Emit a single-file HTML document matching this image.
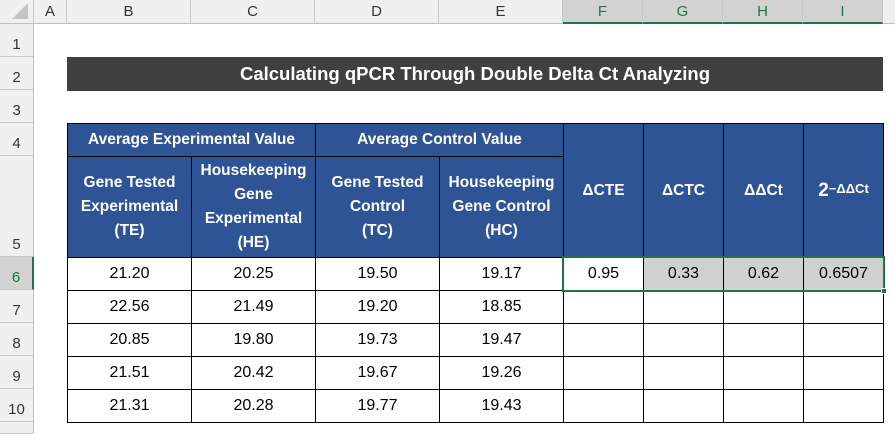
<!DOCTYPE html>
<html><head><meta charset="utf-8"><style>
*{margin:0;padding:0;box-sizing:border-box}
body{width:895px;height:432px;overflow:hidden;background:#fff;font-family:"Liberation Sans",sans-serif;position:relative}
.a{position:absolute;display:flex;align-items:center;justify-content:center;text-align:center}
.ch{top:0;height:24px;background:#f0f0f0;border-right:1px solid #c8c8c8;border-bottom:1px solid #c0c0c0;font-size:15px;color:#333}
.chs{background:#d2d2d2;color:#217346;border-bottom:2px solid #217346}
.rh{left:0;width:34px;background:#f0f0f0;border-bottom:1px solid #c8c8c8;border-right:1px solid #c0c0c0;font-size:15px;color:#333;align-items:flex-end;padding-bottom:3px}
.h{background:#2f5496;color:#fff;font-weight:bold;font-size:15.5px;border:1px solid #000;line-height:24px;white-space:nowrap}
.d{border:1px solid #000;font-size:16px;color:#000;background:#fff}
</style></head><body>
<div class="a ch" style="left:0;width:34px"><svg width="20" height="20" style="position:absolute;right:3px;bottom:2px"><polygon points="18,2 18,18 2,18" fill="#c4c4c4"/></svg></div>
<div class="a ch" style="left:34px;width:33px">A</div>
<div class="a ch" style="left:67px;width:124px">B</div>
<div class="a ch" style="left:191px;width:124px">C</div>
<div class="a ch" style="left:315px;width:124px">D</div>
<div class="a ch" style="left:439px;width:124px">E</div>
<div class="a ch chs" style="left:563px;width:80px">F</div>
<div class="a ch chs" style="left:643px;width:80px">G</div>
<div class="a ch chs" style="left:723px;width:80px">H</div>
<div class="a ch chs" style="left:803px;width:80px">I</div>
<div class="a ch" style="left:883px;width:12px;border-right:none"></div>
<div class="a rh" style="top:24px;height:33px">1</div>
<div class="a rh" style="top:57px;height:33px">2</div>
<div class="a rh" style="top:90px;height:33px">3</div>
<div class="a rh" style="top:123px;height:33px">4</div>
<div class="a rh" style="top:156px;height:101px">5</div>
<div class="a rh" style="top:257px;height:33px;background:#d2d2d2;color:#217346;border-right:2px solid #217346">6</div>
<div class="a rh" style="top:290px;height:33px">7</div>
<div class="a rh" style="top:323px;height:33px">8</div>
<div class="a rh" style="top:356px;height:33px">9</div>
<div class="a rh" style="top:389px;height:33px">10</div>
<div class="a rh" style="top:422px;height:12px"></div>
<div class="a" style="left:67px;top:57px;width:816px;height:34px;background:#404040;color:#fff;font-weight:bold;font-size:18.5px">Calculating qPCR Through Double Delta Ct Analyzing</div>
<div class="a h" style="left:67px;top:123px;width:249px;height:34px">Average Experimental Value</div>
<div class="a h" style="left:315px;top:123px;width:249px;height:34px">Average Control Value</div>
<div class="a h" style="left:67px;top:156px;width:125px;height:102px">Gene Tested<br>Experimental<br>(TE)</div>
<div class="a h" style="left:191px;top:156px;width:125px;height:102px">Housekeeping<br>Gene<br>Experimental<br>(HE)</div>
<div class="a h" style="left:315px;top:156px;width:125px;height:102px">Gene Tested<br>Control<br>(TC)</div>
<div class="a h" style="left:439px;top:156px;width:125px;height:102px">Housekeeping<br>Gene Control<br>(HC)</div>
<div class="a h" style="left:563px;top:123px;width:81px;height:135px">ΔCTE</div>
<div class="a h" style="left:643px;top:123px;width:81px;height:135px">ΔCTC</div>
<div class="a h" style="left:723px;top:123px;width:81px;height:135px">ΔΔCt</div>
<div class="a h" style="left:803px;top:123px;width:81px;height:135px;font-size:19px">2<sup style="font-size:13px;position:relative;top:-2px">−ΔΔCt</sup></div>

<div class="a d" style="left:67px;top:257px;width:125px;height:34px">21.20</div>
<div class="a d" style="left:191px;top:257px;width:125px;height:34px">20.25</div>
<div class="a d" style="left:315px;top:257px;width:125px;height:34px">19.50</div>
<div class="a d" style="left:439px;top:257px;width:125px;height:34px">19.17</div>
<div class="a d" style="left:563px;top:257px;width:81px;height:34px">0.95</div>
<div class="a d" style="left:643px;top:257px;width:81px;height:34px;background:#d0d0d0">0.33</div>
<div class="a d" style="left:723px;top:257px;width:81px;height:34px;background:#d0d0d0">0.62</div>
<div class="a d" style="left:803px;top:257px;width:81px;height:34px;background:#d0d0d0">0.6507</div>

<div class="a d" style="left:67px;top:290px;width:125px;height:34px">22.56</div>
<div class="a d" style="left:191px;top:290px;width:125px;height:34px">21.49</div>
<div class="a d" style="left:315px;top:290px;width:125px;height:34px">19.20</div>
<div class="a d" style="left:439px;top:290px;width:125px;height:34px">18.85</div>
<div class="a d" style="left:563px;top:290px;width:81px;height:34px"></div>
<div class="a d" style="left:643px;top:290px;width:81px;height:34px"></div>
<div class="a d" style="left:723px;top:290px;width:81px;height:34px"></div>
<div class="a d" style="left:803px;top:290px;width:81px;height:34px"></div>

<div class="a d" style="left:67px;top:323px;width:125px;height:34px">20.85</div>
<div class="a d" style="left:191px;top:323px;width:125px;height:34px">19.80</div>
<div class="a d" style="left:315px;top:323px;width:125px;height:34px">19.73</div>
<div class="a d" style="left:439px;top:323px;width:125px;height:34px">19.47</div>
<div class="a d" style="left:563px;top:323px;width:81px;height:34px"></div>
<div class="a d" style="left:643px;top:323px;width:81px;height:34px"></div>
<div class="a d" style="left:723px;top:323px;width:81px;height:34px"></div>
<div class="a d" style="left:803px;top:323px;width:81px;height:34px"></div>

<div class="a d" style="left:67px;top:356px;width:125px;height:34px">21.51</div>
<div class="a d" style="left:191px;top:356px;width:125px;height:34px">20.42</div>
<div class="a d" style="left:315px;top:356px;width:125px;height:34px">19.67</div>
<div class="a d" style="left:439px;top:356px;width:125px;height:34px">19.26</div>
<div class="a d" style="left:563px;top:356px;width:81px;height:34px"></div>
<div class="a d" style="left:643px;top:356px;width:81px;height:34px"></div>
<div class="a d" style="left:723px;top:356px;width:81px;height:34px"></div>
<div class="a d" style="left:803px;top:356px;width:81px;height:34px"></div>

<div class="a d" style="left:67px;top:389px;width:125px;height:34px">21.31</div>
<div class="a d" style="left:191px;top:389px;width:125px;height:34px">20.28</div>
<div class="a d" style="left:315px;top:389px;width:125px;height:34px">19.77</div>
<div class="a d" style="left:439px;top:389px;width:125px;height:34px">19.43</div>
<div class="a d" style="left:563px;top:389px;width:81px;height:34px"></div>
<div class="a d" style="left:643px;top:389px;width:81px;height:34px"></div>
<div class="a d" style="left:723px;top:389px;width:81px;height:34px"></div>
<div class="a d" style="left:803px;top:389px;width:81px;height:34px"></div>
<div style="position:absolute;left:562px;top:256px;width:323px;height:36px;border:2px solid #217346"></div>
<div style="position:absolute;left:881px;top:288px;width:6px;height:6px;background:#217346;border:1px solid #fff"></div>
</body></html>
